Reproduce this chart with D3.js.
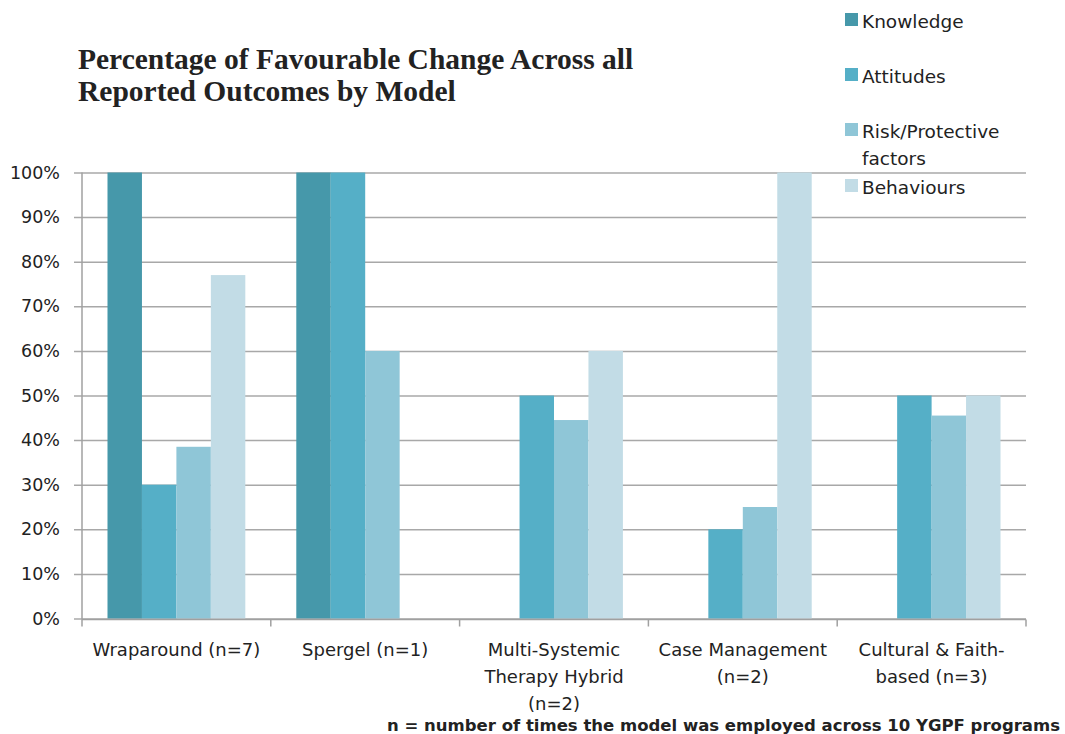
<!DOCTYPE html>
<html lang="en">
<head>
<meta charset="utf-8">
<title>Favourable Change by Model</title>
<script src="https://cdn.jsdelivr.net/npm/d3@7"></script>
<style>
  body { margin: 0; background: #fff; }
  text { font-family: "DejaVu Sans", sans-serif; fill: #222; }
</style>
</head>
<body>
<svg id="chart" width="1065" height="734"></svg>
<script>
// chart data
var models = ["Wraparound (n=7)", "Spergel (n=1)", "Multi-Systemic Therapy Hybrid (n=2)", "Case Management (n=2)", "Cultural & Faith-based (n=3)"];
var modelLines = [["Wraparound (n=7)"], ["Spergel (n=1)"], ["Multi-Systemic", "Therapy Hybrid", "(n=2)"], ["Case Management", "(n=2)"], ["Cultural & Faith-", "based (n=3)"]];
var outcomes = ["Knowledge", "Attitudes", "Risk/Protective factors", "Behaviours"];
var knowledge  = [100, 100, null, null, null];
var attitudes  = [30, 100, 50, 20, 50];
var riskFactors = [38.5, 60, 44.5, 25, 45.5];
var behaviours = [77, null, 60, 100, 50];
var yTicks = [0, 10, 20, 30, 40, 50, 60, 70, 80, 90, 100];
var colors = ["#4698aa", "#55afc7", "#8fc6d7", "#c2dce6"];

var series = [knowledge, attitudes, riskFactors, behaviours];

var svg = d3.select("#chart");
var margin = {left: 82, right: 1026, top: 172.5, bottom: 618.5};

var x = d3.scaleBand().domain(models).range([margin.left, margin.right]).paddingInner(0).paddingOuter(0);
var xs = d3.scaleBand().domain(outcomes).range([0, x.bandwidth()]).paddingInner(0).paddingOuter(0.74);
var y = d3.scaleLinear().domain([0, 100]).range([margin.bottom, margin.top]);

// gridlines + y ticks
svg.append("g")
  .attr("transform", "translate(" + margin.left + ",0)")
  .call(d3.axisLeft(y).tickValues(yTicks).tickSize(-(margin.right - margin.left)).tickSizeOuter(0).tickFormat(function (d) { return d + "%"; }))
  .call(function (g) {
    g.select(".domain").remove();
    g.selectAll(".tick line").attr("stroke", "#a8a8a8").attr("stroke-width", 1.5).attr("x1", -8);
    g.selectAll(".tick text").attr("x", -22).attr("font-size", 17.5).attr("fill", "#222");
  });

// bars
series.forEach(function (vals, si) {
  svg.append("g").selectAll("rect")
    .data(vals.map(function (v, i) { return {m: models[i], v: v}; }).filter(function (d) { return d.v != null; }))
    .enter().append("rect")
    .attr("x", function (d) { return x(d.m) + xs(outcomes[si]); })
    .attr("width", xs.bandwidth())
    .attr("y", function (d) { return y(d.v); })
    .attr("height", function (d) { return y(0) - y(d.v); })
    .attr("fill", colors[si]);
});

// y axis line
svg.append("line")
  .attr("x1", margin.left).attr("x2", margin.left)
  .attr("y1", margin.top).attr("y2", margin.bottom + 1)
  .attr("stroke", "#a0a0a0").attr("stroke-width", 1.5);

// x axis
var xAxis = svg.append("g").attr("transform", "translate(0," + (margin.bottom + 1) + ")");
xAxis.append("line")
  .attr("x1", margin.left).attr("x2", margin.right)
  .attr("stroke", "#a0a0a0").attr("stroke-width", 1.5);
var edges = models.map(function (m) { return x(m); }).concat([margin.right]);
xAxis.selectAll(".edge").data(edges).enter().append("line")
  .attr("x1", function (d) { return d; }).attr("x2", function (d) { return d; })
  .attr("y1", 0).attr("y2", 7)
  .attr("stroke", "#a0a0a0").attr("stroke-width", 1.5);

var labels = svg.append("g").selectAll("text").data(models).enter().append("text")
  .attr("text-anchor", "middle")
  .attr("font-size", 18)
  .attr("x", function (d) { return x(d) + x.bandwidth() / 2; })
  .attr("y", 656);
labels.each(function (d, i) {
  var t = d3.select(this);
  modelLines[i].forEach(function (line, li) {
    t.append("tspan").attr("x", x(d) + x.bandwidth() / 2).attr("dy", li === 0 ? 0 : 27).text(line);
  });
});

// title
var title = svg.append("text")
  .attr("x", 78).attr("y", 69)
  .style("font-family", "'Liberation Serif', serif")
  .attr("font-weight", "bold")
  .attr("font-size", 29.5)
  .attr("fill", "#000");
title.append("tspan").attr("x", 78).text("Percentage of Favourable Change Across all");
title.append("tspan").attr("x", 78).attr("dy", 32).text("Reported Outcomes by Model");

// legend
var legendItems = [
  {lines: ["Knowledge"], y: 22},
  {lines: ["Attitudes"], y: 77},
  {lines: ["Risk/Protective", "factors"], y: 132},
  {lines: ["Behaviours"], y: 188}
];
var legend = svg.append("g");
legendItems.forEach(function (item, i) {
  legend.append("rect")
    .attr("x", 845).attr("y", item.y - 9)
    .attr("width", 13).attr("height", 13)
    .attr("fill", colors[i]);
  var t = legend.append("text").attr("x", 862).attr("y", item.y + 6).attr("font-size", 18.5);
  item.lines.forEach(function (line, li) {
    t.append("tspan").attr("x", 862).attr("dy", li === 0 ? 0 : 27).text(line);
  });
});

// footnote
svg.append("text")
  .attr("x", 1060).attr("y", 731)
  .attr("text-anchor", "end")
  .attr("font-weight", "bold")
  .attr("font-size", 16.5)
  .attr("fill", "#111")
  .text("n = number of times the model was employed across 10 YGPF programs");
</script>
</body>
</html>
